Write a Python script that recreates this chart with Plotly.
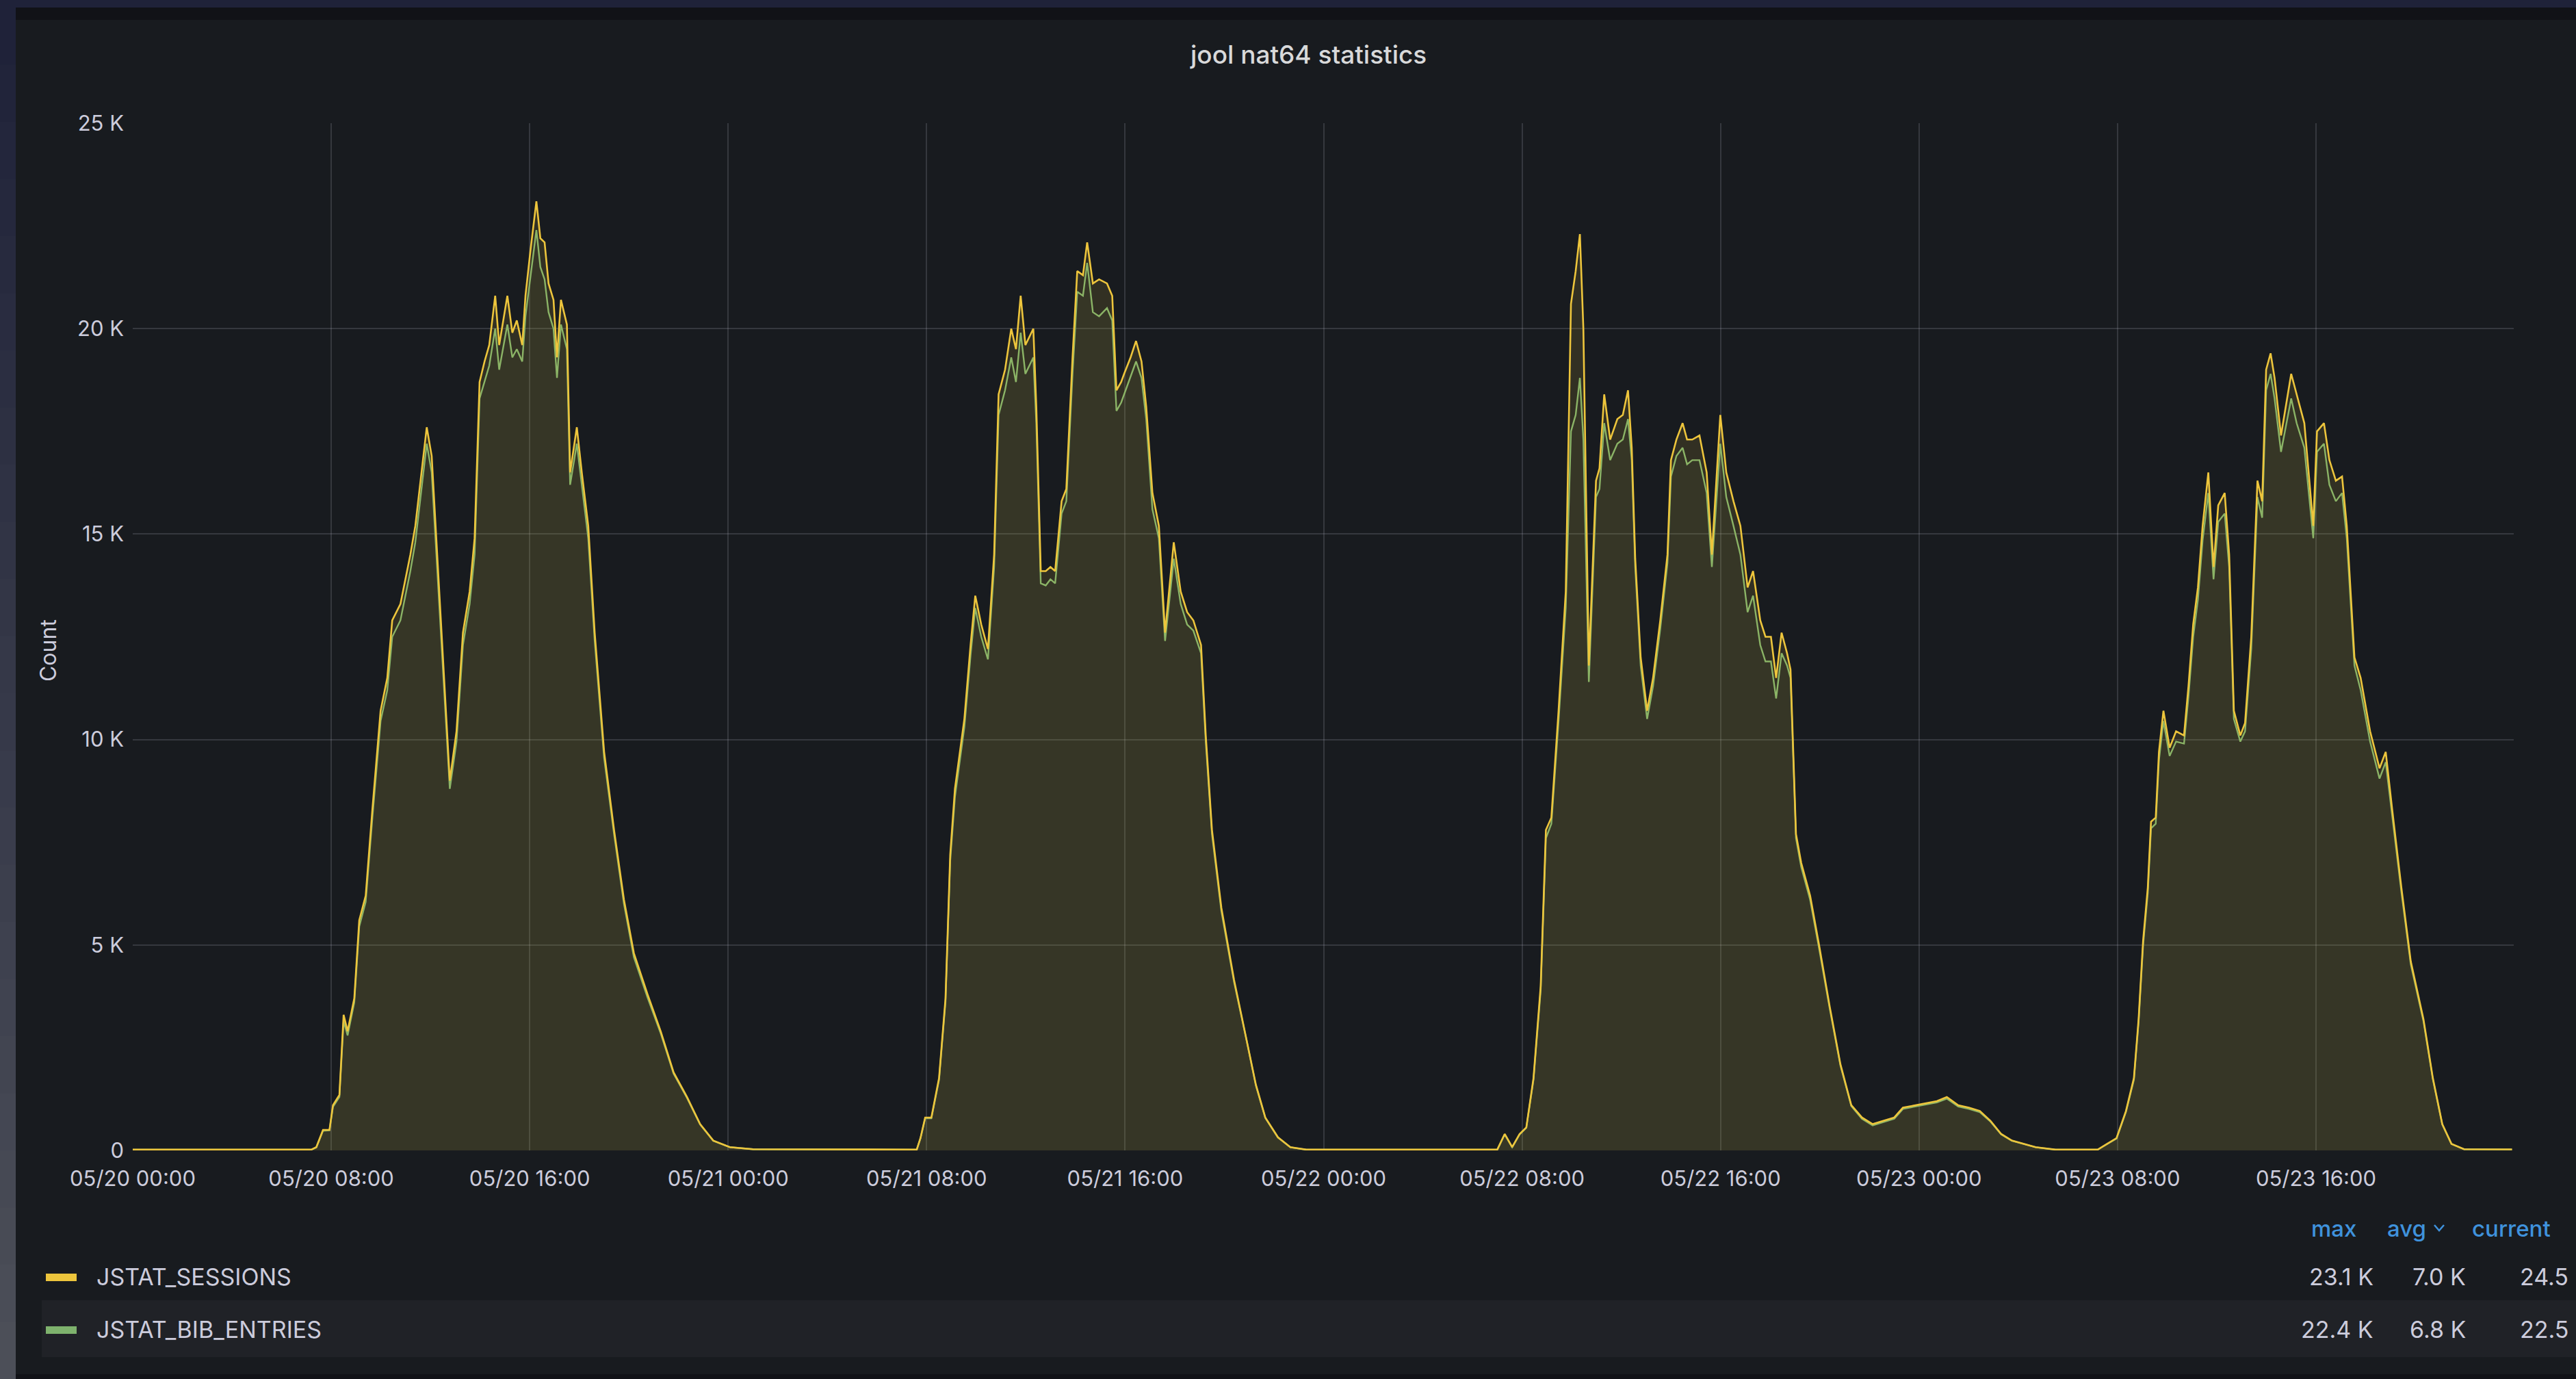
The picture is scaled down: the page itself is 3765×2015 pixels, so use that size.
import plotly.graph_objects as go
import pandas as pd

# ---------------- data ----------------
# hours since 05/20 00:00
hours = [
    0.0, 7.2, 7.4, 7.67, 7.93, 8.07, 8.33, 8.5, 8.66, 8.93, 9.13, 9.39, 9.66, 9.99, 10.26, 10.46,
    10.79, 10.99, 11.19, 11.39, 11.65, 11.85, 12.05, 12.32, 12.52, 12.78, 13.05, 13.31, 13.58,
    13.78, 13.98, 14.18, 14.37, 14.61, 14.77, 15.1, 15.3, 15.48, 15.7, 15.83, 16.03, 16.27,
    16.43, 16.6, 16.76, 16.96, 17.1, 17.26, 17.5, 17.63, 17.9, 18.1, 18.36, 18.62, 19.0, 19.4,
    19.8, 20.2, 20.75, 21.28, 21.8, 22.34, 22.87, 23.4, 24.07, 25.0, 31.6,
    31.75, 31.94, 32.19, 32.5, 32.76, 32.95, 33.14, 33.52, 33.77, 33.96, 34.2, 34.47, 34.72,
    34.9, 35.16, 35.41, 35.6, 35.79, 35.98, 36.3, 36.42, 36.6, 36.8, 36.99, 37.18, 37.44,
    37.63, 37.88, 38.07, 38.3, 38.47, 38.7, 38.95, 39.27, 39.48, 39.65, 39.84, 39.96, 40.22,
    40.44, 40.66, 40.85, 41.1, 41.36, 41.61, 41.96, 42.24, 42.5, 42.75, 43.06, 43.25, 43.5,
    43.88, 44.39, 44.9, 45.27, 45.65, 46.16, 46.66, 47.3, 55.0,
    55.3, 55.6, 55.9, 56.17, 56.46, 56.75, 56.96, 57.18, 57.47, 57.76, 57.97, 58.16, 58.33,
    58.47, 58.69, 58.98, 59.12, 59.31, 59.55, 59.84, 60.06, 60.27, 60.42, 60.56, 60.78, 61.04,
    61.28, 61.57, 61.86, 62.0, 62.22, 62.47, 62.65, 62.86, 63.15, 63.44, 63.65, 63.99, 64.23,
    64.52, 64.8, 65.09, 65.31, 65.6, 65.81, 66.03, 66.24, 66.46, 66.68, 66.82, 67.04, 67.25,
    67.61, 67.97, 68.4, 68.83, 69.27, 69.7, 70.13, 70.56, 71.0, 71.35, 71.86, 72.29, 72.72,
    73.12, 73.58, 74.01, 74.45, 74.88, 75.31, 75.74, 76.7, 77.5, 79.2,
    79.58, 79.96, 80.34, 80.66, 80.85, 81.03, 81.22, 81.35, 81.54, 81.67, 81.85, 82.1, 82.36,
    82.68, 82.86, 83.05, 83.24, 83.43, 83.66, 83.87, 84.06, 84.32, 84.5, 84.69, 84.95, 85.14,
    85.39, 85.64, 85.83, 85.99, 86.17, 86.33, 86.59, 86.78, 87.0, 87.22, 87.53, 87.89, 88.04,
    88.32, 88.54, 88.8, 89.05, 89.24, 89.43, 89.55, 89.8, 90.18, 90.56, 90.81, 91.07, 91.44,
    91.82, 92.33, 92.71, 93.09, 93.46, 93.97, 95.9,
]

jstat_sessions = [
    20, 20, 80, 500, 500, 1100, 1350, 3300, 2900, 3700, 5600, 6200, 8300, 10700, 11500, 12900,
    13300, 13900, 14500, 15200, 16600, 17600, 16900, 13900, 11700, 9000, 10200, 12600, 13600,
    14900, 18700, 19200, 19600, 20800, 19600, 20800, 19900, 20200, 19600, 20800, 21900, 23100,
    22200, 22100, 21100, 20700, 19300, 20700, 20100, 16500, 17600, 16500, 15200, 12600, 9700, 7800,
    6100, 4800, 3800, 2900, 1900, 1300, 640, 240, 80, 30, 20,
    300, 800, 800, 1760, 3700, 7200, 8800, 10500, 12300, 13500, 12800, 12200, 14500,
    18400, 19000, 20000, 19500, 20800, 19600, 20000, 18100, 14100, 14100, 14200, 14100, 15800,
    16100, 19300, 21400, 21300, 22100, 21100, 21200, 21100, 20800, 18500, 18700, 18900, 19300,
    19700, 19200, 18100, 16000, 15200, 12600, 14800, 13600, 13100, 12900, 12300, 10100, 7800,
    5900, 4150, 2700, 1600, 800, 320, 80, 20, 20,
    400, 80, 400, 560, 1760, 4000, 7800, 8100, 10700, 13600, 20600, 21400, 22300,
    20000, 11800, 16300, 16600, 18400, 17300, 17800, 17900, 18500, 17100, 14400, 12000, 10700,
    11500, 12900, 14500, 16800, 17300, 17700, 17300, 17300, 17400, 16500, 14500, 17900, 16500,
    15800, 15200, 13700, 14100, 12900, 12500, 12500, 11500, 12600, 12100, 11700, 7700, 7000,
    6200, 5000, 3500, 2100, 1100, 800, 640, 720, 800, 1040, 1100, 1150, 1200,
    1300, 1100, 1040, 960, 720, 400, 240, 80, 20, 20,
    160, 300, 960, 1760, 3200, 5100, 6400, 8000, 8100, 9700, 10700, 9800, 10200,
    10100, 11300, 12800, 13700, 15200, 16500, 14200, 15700, 16000, 14500, 10700, 10100, 10400,
    12500, 16300, 15800, 19000, 19400, 18800, 17400, 18100, 18900, 18400, 17700, 15200, 17500,
    17700, 16800, 16300, 16400, 15200, 13100, 12000, 11500, 10200, 9300, 9700, 8300, 6400,
    4600, 3200, 1760, 640, 160, 30, 24.5,
]

jstat_bib_entries = [
    18, 18, 75, 480, 490, 1060, 1300, 3150, 2800, 3600, 5450, 6050, 8100, 10450, 11200, 12500,
    12900, 13500, 14100, 14800, 16200, 17200, 16500, 13600, 11400, 8800, 9950, 12300, 13300,
    14500, 18300, 18700, 19100, 20000, 19000, 20100, 19300, 19500, 19200, 20300, 21300, 22400,
    21500, 21200, 20400, 20000, 18800, 20100, 19500, 16200, 17200, 16200, 14900, 12400, 9550, 7700,
    6000, 4700, 3720, 2850, 1870, 1280, 630, 235, 78, 28, 18,
    290, 780, 780, 1720, 3620, 7050, 8600, 10300, 12050, 13200, 12500, 11950, 14200,
    17900, 18500, 19300, 18700, 19900, 18900, 19300, 17700, 13800, 13750, 13900, 13800, 15500,
    15800, 18900, 20900, 20800, 21600, 20400, 20300, 20500, 20200, 18000, 18200, 18400, 18800,
    19200, 18800, 17800, 15600, 14900, 12400, 14400, 13300, 12800, 12650, 12100, 9950, 7700,
    5820, 4100, 2670, 1580, 790, 315, 78, 18, 18,
    390, 78, 390, 550, 1720, 3900, 7600, 7950, 10450, 13200, 17500, 17900, 18800,
    17300, 11400, 15900, 16100, 17700, 16800, 17200, 17300, 17800, 16800, 14200, 11800, 10500,
    11300, 12700, 14300, 16400, 16900, 17100, 16700, 16800, 16800, 16000, 14200, 17200, 15900,
    15200, 14500, 13100, 13500, 12300, 11900, 11900, 11000, 12100, 11800, 11500, 7600, 6900,
    6100, 4920, 3450, 2070, 1080, 770, 610, 690, 770, 1010, 1070, 1120, 1170,
    1260, 1070, 1010, 930, 700, 390, 235, 78, 18, 18,
    155, 290, 940, 1720, 3130, 4990, 6270, 7840, 7950, 9500, 10450, 9600, 9950,
    9900, 11050, 12500, 13400, 14850, 16000, 13900, 15300, 15500, 14200, 10500, 9950, 10200,
    12200, 15900, 15400, 18500, 18900, 18300, 17000, 17600, 18300, 17700, 17100, 14900, 17000,
    17200, 16200, 15800, 16000, 14900, 12900, 11800, 11200, 9950, 9050, 9450, 8150, 6300,
    4530, 3150, 1730, 630, 155, 28, 22.5,
]

tick_hours = [0, 8, 16, 24, 32, 40, 48, 56, 64, 72, 80, 88]
tick_labels = ["05/20 00:00", "05/20 08:00", "05/20 16:00", "05/21 00:00", "05/21 08:00",
               "05/21 16:00", "05/22 00:00", "05/22 08:00", "05/22 16:00", "05/23 00:00",
               "05/23 08:00", "05/23 16:00"]
y_ticks = [0, 5000, 10000, 15000, 20000, 25000]
y_tick_labels = ["0", "5 K", "10 K", "15 K", "20 K", "25 K"]

legend_names = ["JSTAT_SESSIONS", "JSTAT_BIB_ENTRIES"]
legend_max = ["23.1 K", "22.4 K"]
legend_avg = ["7.0 K", "6.8 K"]
legend_current = ["24.5", "22.5"]
legend_headers = ["max", "avg", "current"]

# ---------------- styling ----------------
W, H = 3765, 2015
L, R, T, B = 194, 3674, 180, 1681      # plot area in pixels
YELLOW = "#EDC53C"
GREEN = "#7EB26D"
TXT = "#ccccdc"
BG = "#181b1f"
BLUE = "#3f92dc"
FONT = "Inter"

def px(xp):
    return (xp - L) / (R - L)

def py(yp):
    return (B - yp) / (B - T)

base = pd.Timestamp("2023-05-20 00:00")
times = base + pd.to_timedelta(hours, unit="h")
tick_times = base + pd.to_timedelta(tick_hours, unit="h")
x_end = base + pd.to_timedelta(95.97, unit="h")

fig = go.Figure()
fig.add_trace(go.Scatter(x=times, y=jstat_bib_entries, name=legend_names[1], mode="lines",
                         line=dict(color=GREEN, width=2.4), fill="tozeroy",
                         fillcolor="rgba(126,178,109,0.05)", showlegend=False))
fig.add_trace(go.Scatter(x=times, y=jstat_sessions, name=legend_names[0], mode="lines",
                         line=dict(color=YELLOW, width=2.6), fill="tozeroy",
                         fillcolor="rgba(234,193,60,0.13)", showlegend=False))

shapes = []
# outer frame strips
shapes.append(dict(type="rect", xref="paper", yref="paper", x0=px(0), x1=px(W), y0=py(0), y1=py(11),
                   fillcolor="#1f2239", line_width=0, layer="below"))
shapes.append(dict(type="rect", xref="paper", yref="paper", x0=px(23), x1=px(W), y0=py(11), y1=py(29),
                   fillcolor="#111217", line_width=0, layer="below"))
shapes.append(dict(type="rect", xref="paper", yref="paper", x0=px(23), x1=px(W), y0=py(2008), y1=py(H),
                   fillcolor="#111217", line_width=0, layer="below"))
# left strip, navy at top fading to grey at bottom
n = 24
c0 = (31, 34, 57)
c1 = (76, 79, 88)
for i in range(n):
    f = i / (n - 1)
    col = "rgb(%d,%d,%d)" % tuple(round(a + (b - a) * f) for a, b in zip(c0, c1))
    y0 = 11 + (H - 11) * i / n
    y1 = 11 + (H - 11) * (i + 1) / n
    shapes.append(dict(type="rect", xref="paper", yref="paper", x0=px(0), x1=px(23),
                       y0=py(y0), y1=py(y1 + 1), fillcolor=col, line_width=0, layer="below"))
# legend second-row background
shapes.append(dict(type="rect", xref="paper", yref="paper", x0=px(61), x1=px(W), y0=py(1900), y1=py(1983),
                   fillcolor="#202227", line_width=0, layer="below"))
# legend swatches
shapes.append(dict(type="rect", xref="paper", yref="paper", x0=px(67), x1=px(112), y0=py(1861), y1=py(1872),
                   fillcolor=YELLOW, line_width=0))
shapes.append(dict(type="rect", xref="paper", yref="paper", x0=px(67), x1=px(112), y0=py(1938), y1=py(1949),
                   fillcolor=GREEN, line_width=0))
# chevron next to "avg"
cx0, cx1, cxm = 3558, 3572, 3565
cy0, cy1 = 1790, 1798
shapes.append(dict(type="path", xref="paper", yref="paper",
                   path="M %f %f L %f %f L %f %f" % (px(cx0), py(cy0), px(cxm), py(cy1), px(cx1), py(cy0)),
                   line=dict(color=BLUE, width=2.5)))

ann = []
ann.append(dict(text="jool nat64 statistics", x=px(1912), y=py(79), xref="paper", yref="paper",
                showarrow=False, xanchor="center", yanchor="middle",
                font=dict(family=FONT, size=37, color="#d8d9da", weight=500)))
ann.append(dict(text="Count", x=px(70), y=py(951), xref="paper", yref="paper", textangle=-90,
                showarrow=False, xanchor="center", yanchor="middle",
                font=dict(family=FONT, size=32, color=TXT)))
# legend header
for txt, xr in zip(legend_headers, [3446, 3548, 3730]):
    ann.append(dict(text=txt, x=px(xr), y=py(1795), xref="paper", yref="paper", showarrow=False,
                    xanchor="right", yanchor="middle", font=dict(family=FONT, size=33, color=BLUE, weight=500)))
rows_y = [1865, 1942]
for i in range(2):
    ann.append(dict(text=legend_names[i], x=px(139), y=py(rows_y[i]), xref="paper", yref="paper",
                    showarrow=False, xanchor="left", yanchor="middle",
                    font=dict(family=FONT, size=34, color=TXT)))
    for val, xr in zip([legend_max[i], legend_avg[i], legend_current[i]], [3471, 3606, 3756]):
        ann.append(dict(text=val, x=px(xr), y=py(rows_y[i]), xref="paper", yref="paper",
                        showarrow=False, xanchor="right", yanchor="middle",
                        font=dict(family=FONT, size=34, color=TXT)))

fig.update_layout(
    width=W, height=H,
    margin=dict(l=L, r=W - R, t=T, b=H - B, pad=0),
    paper_bgcolor=BG, plot_bgcolor=BG,
    font=dict(family=FONT, color=TXT, size=32),
    showlegend=False,
    shapes=shapes, annotations=ann,
    xaxis=dict(type="date", range=[base, x_end], tickmode="array", tickvals=tick_times,
               ticktext=tick_labels, showgrid=True, gridcolor="rgba(204,204,220,0.17)", gridwidth=2,
               zeroline=False, showline=False, ticks="", ticklabelstandoff=20,
               tickfont=dict(family=FONT, size=31, color=TXT)),
    yaxis=dict(range=[0, 25000], tickmode="array", tickvals=y_ticks, ticktext=y_tick_labels,
               showgrid=True, gridcolor="rgba(204,204,220,0.17)", gridwidth=2,
               zeroline=False, showline=False, ticks="", ticklabelstandoff=12,
               tickfont=dict(family=FONT, size=31, color=TXT)),
)

fig.write_html("out.html", config={"displayModeBar": False},
               post_script="document.body.style.margin='0';document.body.style.overflow='hidden';"
                           "document.documentElement.style.overflow='hidden';")
